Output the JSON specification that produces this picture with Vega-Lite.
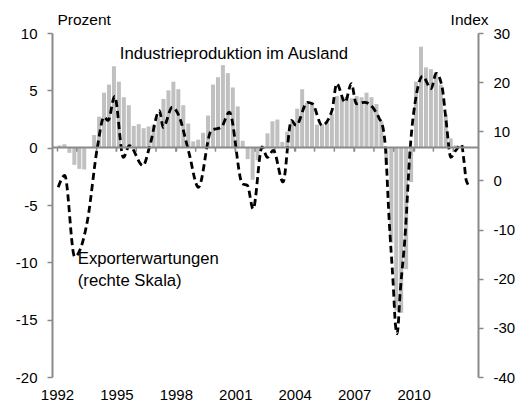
{
  "$schema": "https://vega.github.io/schema/vega-lite/v6.json",
  "width": 426,
  "height": 344,
  "autosize": {"type": "none"},
  "padding": {"left": 52, "top": 33, "right": 39, "bottom": 28},
  "config": {
    "view": {"stroke": null},
    "font": "Liberation Sans",
    "axis": {
      "grid": false,
      "domainColor": "#8a8a8a",
      "domainWidth": 2,
      "tickColor": "#8a8a8a",
      "tickWidth": 1.5,
      "labelFont": "Liberation Sans",
      "labelFontSize": 15,
      "labelColor": "#000000",
      "titleFont": "Liberation Sans",
      "titleFontSize": 15.5,
      "titleFontWeight": "normal",
      "titleColor": "#000000"
    },
    "axisX": {"labelOverlap": false},
    "axisY": {"labelOverlap": false},
    "text": {"font": "Liberation Sans", "fontSize": 16.7, "color": "#000000"}
  },
  "datasets": {
    "years": [
      {"year": 1993}, {"year": 1994}, {"year": 1995}, {"year": 1996}, {"year": 1997}, {"year": 1998},
      {"year": 1999}, {"year": 2000}, {"year": 2001}, {"year": 2002}, {"year": 2003}, {"year": 2004},
      {"year": 2005}, {"year": 2006}, {"year": 2007}, {"year": 2008}, {"year": 2009}, {"year": 2010},
      {"year": 2011}, {"year": 2012}
    ],
    "bars": [
      {"t": 1992.125, "v": 0.2}, {"t": 1992.375, "v": 0.3}, {"t": 1992.625, "v": -0.45}, {"t": 1992.875, "v": -1.5},
      {"t": 1993.125, "v": -1.85}, {"t": 1993.375, "v": -1.9}, {"t": 1993.625, "v": -0.05}, {"t": 1993.875, "v": 1.1},
      {"t": 1994.125, "v": 2.7}, {"t": 1994.375, "v": 4.8}, {"t": 1994.625, "v": 5.5}, {"t": 1994.875, "v": 7.1},
      {"t": 1995.125, "v": 5.75}, {"t": 1995.375, "v": 4.4}, {"t": 1995.625, "v": 3.7}, {"t": 1995.875, "v": 1.9},
      {"t": 1996.125, "v": 2.05}, {"t": 1996.375, "v": 1.7}, {"t": 1996.625, "v": 1.85}, {"t": 1996.875, "v": 2.0},
      {"t": 1997.125, "v": 2.65}, {"t": 1997.375, "v": 4.25}, {"t": 1997.625, "v": 5.0}, {"t": 1997.875, "v": 5.75},
      {"t": 1998.125, "v": 5.1}, {"t": 1998.375, "v": 3.7}, {"t": 1998.625, "v": 2.1}, {"t": 1998.875, "v": 0.55},
      {"t": 1999.125, "v": 0.7}, {"t": 1999.375, "v": 1.3}, {"t": 1999.625, "v": 2.8}, {"t": 1999.875, "v": 5.5},
      {"t": 2000.125, "v": 6.15}, {"t": 2000.375, "v": 7.2}, {"t": 2000.625, "v": 6.5}, {"t": 2000.875, "v": 5.25},
      {"t": 2001.125, "v": 3.6}, {"t": 2001.375, "v": 0.6}, {"t": 2001.625, "v": -1.0}, {"t": 2001.875, "v": -2.8},
      {"t": 2002.125, "v": -1.1}, {"t": 2002.375, "v": -0.1}, {"t": 2002.625, "v": 1.25}, {"t": 2002.875, "v": 2.3},
      {"t": 2003.125, "v": 2.45}, {"t": 2003.375, "v": 0.5}, {"t": 2003.625, "v": 1.4}, {"t": 2003.875, "v": 2.4},
      {"t": 2004.125, "v": 3.4}, {"t": 2004.375, "v": 5.1}, {"t": 2004.625, "v": 3.95}, {"t": 2004.875, "v": 3.9},
      {"t": 2005.125, "v": 2.0}, {"t": 2005.375, "v": 2.05}, {"t": 2005.625, "v": 2.2}, {"t": 2005.875, "v": 2.95},
      {"t": 2006.125, "v": 4.5}, {"t": 2006.375, "v": 4.4}, {"t": 2006.625, "v": 4.45}, {"t": 2006.875, "v": 4.3},
      {"t": 2007.125, "v": 4.5}, {"t": 2007.375, "v": 4.4}, {"t": 2007.625, "v": 4.8}, {"t": 2007.875, "v": 4.4},
      {"t": 2008.125, "v": 3.8}, {"t": 2008.375, "v": 2.3}, {"t": 2008.625, "v": -1.5}, {"t": 2008.875, "v": -8.3},
      {"t": 2009.125, "v": -14.2}, {"t": 2009.375, "v": -14.4}, {"t": 2009.625, "v": -10.6}, {"t": 2009.875, "v": -3.0},
      {"t": 2010.125, "v": 5.75}, {"t": 2010.375, "v": 8.8}, {"t": 2010.625, "v": 7.0}, {"t": 2010.875, "v": 6.85},
      {"t": 2011.125, "v": 6.6}, {"t": 2011.375, "v": 5.5}, {"t": 2011.625, "v": 2.9}, {"t": 2011.875, "v": 0.8},
      {"t": 2012.125, "v": 0.2}, {"t": 2012.375, "v": 0.1}, {"t": 2012.625, "v": 0.1}
    ],
    "expo": [
      {"t": 1992.06, "v": -1.4}, {"t": 1992.39, "v": 1.0}, {"t": 1992.89, "v": -15.5}, {"t": 1993.54, "v": -8.1},
      {"t": 1994.04, "v": 6.8}, {"t": 1994.37, "v": 12.9}, {"t": 1994.58, "v": 12.2}, {"t": 1994.91, "v": 17.1},
      {"t": 1995.35, "v": 4.7}, {"t": 1995.65, "v": 7.1}, {"t": 1996.34, "v": 3.0}, {"t": 1996.67, "v": 6.8},
      {"t": 1997.17, "v": 14.2}, {"t": 1997.36, "v": 10.8}, {"t": 1997.82, "v": 14.9}, {"t": 1998.15, "v": 13.2},
      {"t": 1998.65, "v": 5.8}, {"t": 1999.14, "v": -1.4}, {"t": 1999.79, "v": 10.2}, {"t": 2000.29, "v": 10.8},
      {"t": 2000.70, "v": 13.9}, {"t": 2001.36, "v": -0.7}, {"t": 2001.61, "v": -1.0}, {"t": 2001.90, "v": -5.8},
      {"t": 2002.35, "v": 6.8}, {"t": 2002.62, "v": 4.7}, {"t": 2002.92, "v": 6.1}, {"t": 2003.41, "v": -0.3},
      {"t": 2003.83, "v": 12.2}, {"t": 2004.07, "v": 11.2}, {"t": 2004.64, "v": 15.9}, {"t": 2004.89, "v": 15.6},
      {"t": 2005.38, "v": 11.2}, {"t": 2005.88, "v": 14.2}, {"t": 2006.12, "v": 19.7}, {"t": 2006.54, "v": 15.9},
      {"t": 2006.86, "v": 19.7}, {"t": 2007.11, "v": 15.6}, {"t": 2007.53, "v": 15.9}, {"t": 2007.93, "v": 14.9},
      {"t": 2008.27, "v": 12.6}, {"t": 2008.43, "v": 11.2}, {"t": 2008.59, "v": 6.1}, {"t": 2008.76, "v": -7.5},
      {"t": 2008.97, "v": -21.0}, {"t": 2009.08, "v": -29.1}, {"t": 2009.17, "v": -31.2}, {"t": 2009.33, "v": -22.4},
      {"t": 2009.58, "v": -10.8}, {"t": 2009.82, "v": 6.0}, {"t": 2010.15, "v": 17.6}, {"t": 2010.45, "v": 21.2},
      {"t": 2010.89, "v": 18.7}, {"t": 2011.14, "v": 21.8}, {"t": 2011.44, "v": 19.0}, {"t": 2011.64, "v": 12.2},
      {"t": 2011.88, "v": 4.7}, {"t": 2012.13, "v": 6.1}, {"t": 2012.42, "v": 7.3}, {"t": 2012.54, "v": 4.1},
      {"t": 2012.66, "v": 0.0}, {"t": 2012.87, "v": -1.4}
    ]
  },
  "layer": [
    {
      "layer": [
        {
          "data": {"name": "bars"},
          "mark": {"type": "bar", "color": "#c0c0c0", "size": 4},
          "encoding": {
            "x": {
              "field": "t", "type": "quantitative",
              "scale": {"domain": [1992, 2013], "nice": false, "zero": false},
              "axis": {
                "values": [1992, 1995, 1998, 2001, 2004, 2007, 2010],
                "labelExpr": "'' + datum.value",
                "labelOverlap": false,
                "labelFlush": false,
                "labelBound": false,
                "offset": -230,
                "tickSize": 4,
                "labelPadding": 236,
                "title": null,
                "zindex": 1
              }
            },
            "y": {
              "field": "v", "type": "quantitative",
              "scale": {"domain": [-20, 10], "nice": false, "zero": false},
              "axis": {
                "values": [-20, -15, -10, -5, 0, 5, 10],
                "labelExpr": "'' + datum.value",
                "tickSize": 5,
                "labelPadding": 10,
                "title": "Prozent",
                "titleAngle": 0,
                "titleAlign": "left",
                "titleBaseline": "alphabetic",
                "titleX": 5,
                "titleY": -9
              }
            }
          }
        },
        {
          "data": {"name": "years"},
          "mark": {"type": "rule", "color": "#8a8a8a", "strokeWidth": 1.5},
          "encoding": {
            "x": {"field": "year", "type": "quantitative"},
            "y": {"datum": 0, "type": "quantitative"},
            "y2": {"datum": -0.35}
          }
        },
        {
          "data": {"values": [{}]},
          "mark": {"type": "text", "align": "left", "baseline": "middle"},
          "encoding": {
            "x": {"datum": 1995.17, "type": "quantitative"},
            "y": {"datum": 8.15, "type": "quantitative"},
            "text": {"value": "Industrieproduktion im Ausland"}
          }
        },
        {
          "data": {"values": [{}]},
          "mark": {"type": "text", "align": "left", "baseline": "middle"},
          "encoding": {
            "x": {"datum": 1993.05, "type": "quantitative"},
            "y": {"datum": -9.72, "type": "quantitative"},
            "text": {"value": "Exporterwartungen"}
          }
        },
        {
          "data": {"values": [{}]},
          "mark": {"type": "text", "align": "left", "baseline": "middle"},
          "encoding": {
            "x": {"datum": 1993.05, "type": "quantitative"},
            "y": {"datum": -11.6, "type": "quantitative"},
            "text": {"value": "(rechte Skala)"}
          }
        }
      ]
    },
    {
      "data": {"name": "expo"},
      "mark": {"type": "line", "color": "#000000", "strokeWidth": 2.8, "strokeDash": [7, 4], "interpolate": "monotone"},
      "encoding": {
        "x": {"field": "t", "type": "quantitative"},
        "y": {
          "field": "v", "type": "quantitative",
          "scale": {"domain": [-40, 30], "nice": false, "zero": false},
          "axis": {
            "orient": "right",
            "values": [-40, -30, -20, -10, 0, 10, 20, 30],
            "labelExpr": "'' + datum.value",
            "tickSize": 5,
            "labelPadding": 10,
            "title": "Index",
            "titleAngle": 0,
            "titleAlign": "right",
            "titleBaseline": "alphabetic",
            "titleX": 10,
            "titleY": -9
          }
        }
      }
    }
  ],
  "resolve": {"scale": {"y": "independent"}}
}
